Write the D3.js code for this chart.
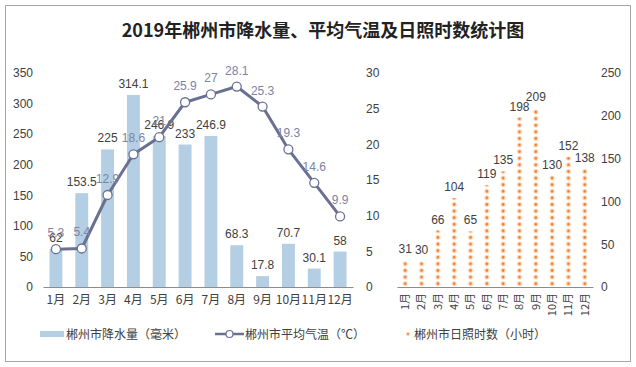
<!DOCTYPE html>
<html><head><meta charset="utf-8">
<script src="https://cdn.jsdelivr.net/npm/d3@7"></script>
<style>
body{margin:0;background:#fff;}
svg{display:block;}
text{font-family:"Liberation Sans",Arial,sans-serif;}
.cjk{font-family:"Noto Sans CJK SC","Noto Sans",sans-serif;}
</style></head>
<body>
<svg id="c" width="636" height="367"></svg>
<script>
const months = ["1月","2月","3月","4月","5月","6月","7月","8月","9月","10月","11月","12月"];
const precipitation = [62,153.5,225,314.1,246.9,233,246.9,68.3,17.8,70.7,30.1,58];
const temperature = [5.3,5.4,12.9,18.6,21,25.9,27,28.1,25.3,19.3,14.6,9.9];
const sunshine = [31,30,66,104,65,119,135,198,209,130,152,138];
const precipTicks = [0,50,100,150,200,250,300,350];
const tempTicks = [0,5,10,15,20,25,30];
const sunTicks = [0,50,100,150,200,250];
const title = "2019年郴州市降水量、平均气温及日照时数统计图";
const legendLabels = ["郴州市降水量（毫米）","郴州市平均气温（℃）","郴州市日照时数（小时）"];

const svg = d3.select("#c");
const barColor = "#b4cfe3", lineColor = "#6a7092", tempLabel = "#7c83a6", txt = "#404040";

svg.append("rect").attr("x",5.5).attr("y",5.5).attr("width",625).attr("height",356)
  .attr("fill","#fff").attr("stroke","#a6a6a6").attr("stroke-width",1);

svg.append("text").attr("class","cjk").attr("x",323).attr("y",37).attr("text-anchor","middle")
  .attr("font-size",18).attr("font-weight","bold").attr("fill","#222").text(title);

// ---- left chart
const y0 = 287, y1 = 73;
const x = d3.scaleBand().domain(months).range([43,353]).paddingInner(0.5).paddingOuter(0.25);
const yP = d3.scaleLinear().domain([0,350]).range([y0,y1]);
const yT = d3.scaleLinear().domain([0,30]).range([y0,y1]);

const gL = svg.append("g");
gL.selectAll("rect.bar").data(precipitation).join("rect").attr("class","bar")
  .attr("x",(d,i)=>x(months[i])).attr("width",x.bandwidth())
  .attr("y",d=>yP(d)).attr("height",d=>y0-yP(d)).attr("fill",barColor);

const axL = d3.axisLeft(yP).tickValues(precipTicks).tickSize(0).tickPadding(0);
const gAL = svg.append("g").attr("transform","translate(33,0)").call(axL);
gAL.select(".domain").remove();
gAL.selectAll("text").attr("font-size",12).attr("fill",txt).attr("font-family","Liberation Sans, Arial, sans-serif");

const axR = d3.axisRight(yT).tickValues(tempTicks).tickSize(0).tickPadding(0);
const gAR = svg.append("g").attr("transform","translate(366,0)").call(axR);
gAR.select(".domain").remove();
gAR.selectAll("text").attr("font-size",12).attr("fill",txt).attr("font-family","Liberation Sans, Arial, sans-serif");

const axB = d3.axisBottom(x).tickSize(0).tickPadding(8);
const gAB = svg.append("g").attr("transform",`translate(0,${y0})`).call(axB);
gAB.select(".domain").attr("stroke","#8c8c8c");
gAB.selectAll("text").attr("font-size",12).attr("fill",txt).attr("class","cjk");

gL.selectAll("text.pl").data(precipitation).join("text").attr("class","pl")
  .attr("x",(d,i)=>x(months[i])+x.bandwidth()/2).attr("y",d=>yP(d)-7)
  .attr("text-anchor","middle").attr("font-size",12).attr("fill",txt).text(d=>d);

const cx = (d,i)=>x(months[i])+x.bandwidth()/2;
const line = d3.line().x((d,i)=>cx(d,i)).y(d=>yT(d));
gL.append("path").datum(temperature).attr("d",line).attr("fill","none")
  .attr("stroke",lineColor).attr("stroke-width",3).attr("stroke-linejoin","round");
gL.selectAll("circle.m").data(temperature).join("circle").attr("class","m")
  .attr("cx",cx).attr("cy",d=>yT(d)).attr("r",4.5).attr("fill","#fff")
  .attr("stroke",lineColor).attr("stroke-width",1.3);
gL.selectAll("text.tl").data(temperature).join("text").attr("class","tl")
  .attr("x",cx).attr("y",d=>yT(d)-12).attr("text-anchor","middle")
  .attr("font-size",12).attr("fill",tempLabel).text(d=>d);

// ---- right chart
const x2 = d3.scaleBand().domain(months).range([397,593]).paddingInner(0.65).paddingOuter(0.33);
const yS = d3.scaleLinear().domain([0,250]).range([y0,y1]);
const defs = svg.append("defs");
const pat = defs.append("pattern").attr("id","dots").attr("patternUnits","userSpaceOnUse")
  .attr("width",6).attr("height",6.6).attr("y",y0-6.6+3.3 - 6.6*40).attr("x",0);
pat.append("circle").attr("cx",3).attr("cy",3.3).attr("r",2.6).attr("fill","#fbdcc2");
pat.append("circle").attr("cx",3).attr("cy",3.3).attr("r",1.3).attr("fill","#ef7a2c");

const gR = svg.append("g");
gR.selectAll("rect.sb").data(sunshine).join("rect").attr("class","sb")
  .attr("x",(d,i)=>x2(months[i])+x2.bandwidth()/2-3).attr("width",6)
  .attr("y",d=>yS(d)).attr("height",d=>y0-yS(d))
  .attr("fill","url(#dots)")
  .attr("transform",(d,i)=>`translate(0,0)`);
// align pattern per column horizontally
gR.selectAll("rect.sb").each(function(d,i){
  const xx = x2(months[i])+x2.bandwidth()/2-3;
  const id = "dots"+i;
  const p = defs.append("pattern").attr("id",id).attr("patternUnits","userSpaceOnUse")
    .attr("width",6).attr("height",6.6).attr("x",xx).attr("y",y0-6.6*40);
  p.append("circle").attr("cx",3).attr("cy",3.3).attr("r",2.6).attr("fill","#fbdcc2");
  p.append("circle").attr("cx",3).attr("cy",3.3).attr("r",1.3).attr("fill","#ef7a2c");
  d3.select(this).attr("fill",`url(#${id})`);
});

gR.selectAll("text.sl").data(sunshine).join("text").attr("class","sl")
  .attr("x",(d,i)=>x2(months[i])+x2.bandwidth()/2).attr("y",d=>yS(d)-7)
  .attr("text-anchor","middle").attr("font-size",12).attr("fill",txt).text(d=>d);

const axS = d3.axisRight(yS).tickValues(sunTicks).tickSize(0).tickPadding(0);
const gAS = svg.append("g").attr("transform","translate(601,0)").call(axS);
gAS.select(".domain").remove();
gAS.selectAll("text").attr("font-size",12).attr("fill",txt).attr("font-family","Liberation Sans, Arial, sans-serif");

const axB2 = d3.axisBottom(x2).tickSize(0).tickPadding(0);
const gAB2 = svg.append("g").attr("transform",`translate(0,${y0})`).call(axB2);
gAB2.select(".domain").attr("stroke","#8c8c8c");
gAB2.selectAll("text").attr("class","cjk").attr("font-size",11).attr("fill",txt)
  .attr("transform","rotate(-90)").attr("text-anchor","end").attr("dy","0.35em")
  .attr("x",-6).attr("y",0);

// ---- legend
const lg = svg.append("g");
lg.append("rect").attr("x",40).attr("y",331).attr("width",24).attr("height",6).attr("fill",barColor);
lg.append("text").attr("class","cjk").attr("x",66).attr("y",339).attr("font-size",12).attr("fill",txt).text(legendLabels[0]);
lg.append("line").attr("x1",215).attr("x2",244).attr("y1",334).attr("y2",334).attr("stroke",lineColor).attr("stroke-width",2.5);
lg.append("circle").attr("cx",229.5).attr("cy",334).attr("r",3.5).attr("fill","#fff").attr("stroke",lineColor).attr("stroke-width",1.2);
lg.append("text").attr("class","cjk").attr("x",245).attr("y",339).attr("font-size",12).attr("fill",txt).text(legendLabels[1]);
lg.append("circle").attr("cx",408).attr("cy",334).attr("r",2.2).attr("fill","#fbdcc2");
lg.append("circle").attr("cx",408).attr("cy",334).attr("r",1).attr("fill","#ef7a2c");
lg.append("text").attr("class","cjk").attr("x",414).attr("y",339).attr("font-size",12).attr("fill",txt).text(legendLabels[2]);
</script>
</body></html>
